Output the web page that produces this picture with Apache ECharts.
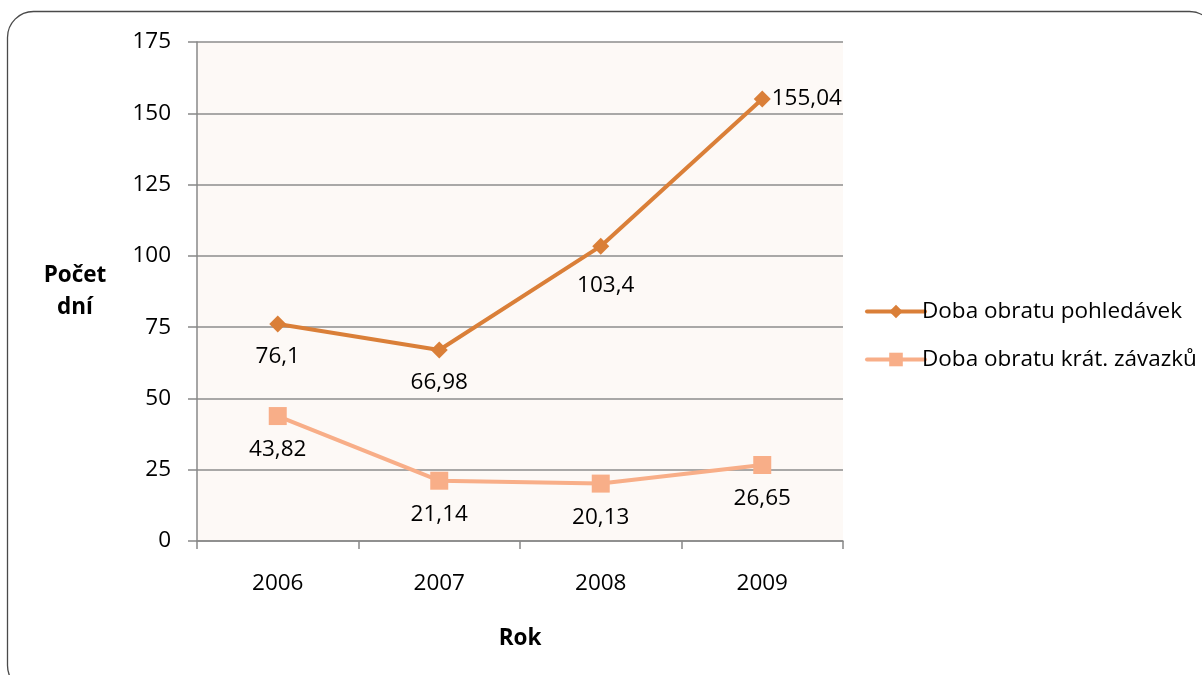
<!DOCTYPE html>
<html>
<head>
<meta charset="utf-8">
<script src="https://cdn.jsdelivr.net/npm/echarts@6/dist/echarts.min.js"></script>
<style>
  html, body { margin: 0; padding: 0; background: #ffffff; }
  #chart { width: 1202px; height: 675px; }
</style>
</head>
<body>
<div id="chart"></div>
<script>
// Years on the category axis
const years = ['2006', '2007', '2008', '2009'];
// Receivables turnover period (days)
const pohledavky = [76.1, 66.98, 103.4, 155.04];
// Short-term liabilities turnover period (days)
const zavazky = [43.82, 21.14, 20.13, 26.65];
// Series names shown in the legend
const seriesNames = ['Doba obratu pohledávek', 'Doba obratu krát. závazků'];

const FONT = 'Open Sans';
const FS = 22.5;
const fmt = v => String(v).replace('.', ',');

// Label placement per point: below the marker, except where a side placement is given
function withLabels(values, rightIndex, nudges) {
  return values.map((v, i) => ({
    value: v,
    label: i === rightIndex
      ? { position: 'right', distance: 1 }
      : { position: 'bottom', distance: 13, offset: (nudges && nudges[i]) || [0, 0] }
  }));
}

const colors = ['#DA7F38', '#F8AE88'];

const chart = echarts.init(document.getElementById('chart'), null, { renderer: 'canvas' });

chart.setOption({
  animation: false,
  backgroundColor: '#ffffff',
  textStyle: { fontFamily: FONT },
  graphic: [{
    type: 'rect',
    shape: { x: 7.5, y: 11.5, width: 1208, height: 680, r: 26 },
    style: { fill: 'none', stroke: '#4a4a4a', lineWidth: 1.3 },
    z: -10
  }],
  grid: {
    left: 197, right: 359, top: 42, bottom: 134,
    show: true, backgroundColor: '#FDF9F6', borderWidth: 0
  },
  legend: {
    orient: 'vertical',
    left: 860, top: 295,
    itemWidth: 58, itemHeight: 17, itemGap: 25,
    textStyle: { fontFamily: FONT, fontSize: FS, color: '#000', padding: [0, 0, 0, -8] },
    data: seriesNames.map((n, i) => ({
      name: n,
      lineStyle: { width: 4, color: colors[i], cap: 'round' }
    }))
  },
  xAxis: {
    type: 'category',
    data: years,
    boundaryGap: true,
    name: 'Rok',
    nameLocation: 'middle',
    nameGap: 86,
    nameTextStyle: { fontFamily: FONT, fontSize: FS, fontWeight: 'bold', color: '#000' },
    axisLine: { lineStyle: { color: '#888888', width: 1.5 } },
    axisTick: { show: true, length: 8, alignWithLabel: false, lineStyle: { color: '#888888', width: 1.5 } },
    axisLabel: { fontFamily: FONT, fontSize: FS, color: '#000', margin: 31 }
  },
  yAxis: {
    type: 'value',
    min: 0, max: 175, interval: 25,
    name: 'Počet\ndní',
    nameLocation: 'middle',
    nameRotate: 0,
    nameGap: 122,
    nameTextStyle: { fontFamily: FONT, fontSize: FS, fontWeight: 'bold', color: '#000', align: 'center', lineHeight: 32, padding: [26, 0, 0, 0] },
    axisLine: { show: true, lineStyle: { color: '#888888', width: 1.5 } },
    axisTick: { show: true, length: 9, inside: false, lineStyle: { color: '#888888', width: 1.5 } },
    axisLabel: { fontFamily: FONT, fontSize: FS, color: '#000', margin: 26 },
    splitLine: { show: true, lineStyle: { color: '#8c8c8c', width: 1.5 } }
  },
  series: [
    {
      name: seriesNames[0],
      type: 'line',
      data: withLabels(pohledavky, 3, { 2: [5, 6] }),
      symbol: 'diamond',
      symbolSize: 17,
      color: colors[0],
      lineStyle: { width: 4, color: colors[0] },
      itemStyle: { color: colors[0] },
      label: {
        show: true,
        fontFamily: FONT, fontSize: FS, color: '#000',
        formatter: p => fmt(p.value)
      },
      z: 3
    },
    {
      name: seriesNames[1],
      type: 'line',
      data: withLabels(zavazky, -1),
      symbol: 'rect',
      symbolSize: 18,
      color: colors[1],
      lineStyle: { width: 4, color: colors[1] },
      itemStyle: { color: colors[1] },
      label: {
        show: true,
        fontFamily: FONT, fontSize: FS, color: '#000',
        formatter: p => fmt(p.value)
      },
      z: 2
    }
  ]
});
</script>
</body>
</html>
